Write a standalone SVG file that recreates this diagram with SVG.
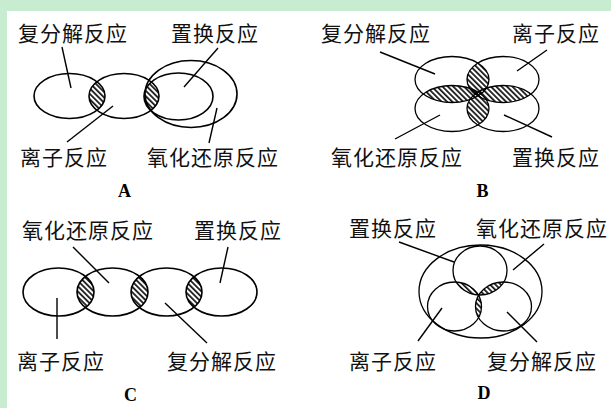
<svg xmlns="http://www.w3.org/2000/svg" width="611" height="408" viewBox="0 0 611 408">
<style>
.set{fill:none;stroke:#000;stroke-width:1.6}
.thin{stroke-width:1.3}
.lead{stroke:#000;stroke-width:1.4;fill:none}
.lbl{font-family:"Noto Sans CJK SC","Noto Sans CJK JP",sans-serif;font-size:21px;letter-spacing:1px;fill:#111}
.cap{font-family:"Liberation Serif",serif;font-weight:bold;font-size:18px;fill:#000;text-anchor:middle}
.h{fill:url(#hatch);stroke:none}
</style>
<defs>
<pattern id="hatch" patternUnits="userSpaceOnUse" width="3.8" height="3.8" patternTransform="rotate(-45)">
<line x1="0.9" y1="0" x2="0.9" y2="3.8" stroke="#000" stroke-width="1.6"/>
</pattern>
<clipPath id="cA1"><ellipse cx="69.5" cy="96" rx="35.5" ry="22.5"/></clipPath>
<clipPath id="cA3"><ellipse cx="178.5" cy="96.5" rx="34.5" ry="23.5"/></clipPath>
<clipPath id="cBtl"><ellipse cx="452" cy="79.5" rx="37" ry="23"/></clipPath>
<clipPath id="cBbl"><ellipse cx="452" cy="108.5" rx="37" ry="23"/></clipPath>
<clipPath id="cBtr"><ellipse cx="503" cy="79.5" rx="36" ry="23"/></clipPath>
<clipPath id="cC1"><ellipse cx="58.5" cy="292" rx="35.5" ry="24"/></clipPath>
<clipPath id="cC2"><ellipse cx="112.5" cy="292" rx="35.5" ry="24"/></clipPath>
<clipPath id="cC3"><ellipse cx="166.5" cy="292" rx="35.5" ry="24"/></clipPath>
<clipPath id="cDt"><ellipse cx="480" cy="270.5" rx="27" ry="24.5"/></clipPath>
<clipPath id="cDl"><ellipse cx="454.5" cy="306.5" rx="27" ry="24.5"/></clipPath>
</defs>
<rect x="0" y="0" width="611" height="408" fill="#c8ecd0"/>
<rect x="7" y="11" width="604" height="397" fill="#fff"/>

<!-- Panel A -->
<g id="panelA">
<g id="A-hatch">
<ellipse class="h" cx="124" cy="96" rx="35" ry="22.5" clip-path="url(#cA1)"/>
<ellipse class="h" cx="124" cy="96" rx="35" ry="22.5" clip-path="url(#cA3)"/>
</g>
<g id="A-fufenjie"><ellipse class="set" cx="69.5" cy="96" rx="35.5" ry="22.5"/><text class="lbl" x="18" y="41">复分解反应</text></g>
<g id="A-lizi"><ellipse class="set" cx="124" cy="96" rx="35" ry="22.5"/><text class="lbl" x="20" y="165">离子反应</text></g>
<g id="A-zhihuan"><ellipse class="set" cx="178.5" cy="96.5" rx="34.5" ry="23.5"/><text class="lbl" x="171" y="41">置换反应</text></g>
<g id="A-yanghua"><ellipse class="set" cx="191" cy="94" rx="46" ry="33.5"/><text class="lbl" x="147" y="165">氧化还原反应</text></g>
<text class="cap" x="124.5" y="197">A</text>
</g>

<!-- Panel B -->
<g id="panelB">
<g id="B-hatch">
<ellipse class="h" cx="503" cy="79.5" rx="36" ry="23" clip-path="url(#cBtl)"/>
<ellipse class="h" cx="503" cy="108.5" rx="36" ry="23" clip-path="url(#cBbl)"/>
<ellipse class="h" cx="452" cy="108.5" rx="37" ry="23" clip-path="url(#cBtl)"/>
<ellipse class="h" cx="503" cy="108.5" rx="36" ry="23" clip-path="url(#cBtr)"/>
</g>
<g id="B-fufenjie"><ellipse class="set thin" cx="452" cy="79.5" rx="37" ry="23"/><text class="lbl" x="321" y="41">复分解反应</text></g>
<g id="B-lizi"><ellipse class="set thin" cx="503" cy="79.5" rx="36" ry="23"/><text class="lbl" x="512" y="41">离子反应</text></g>
<g id="B-yanghua"><ellipse class="set thin" cx="452" cy="108.5" rx="37" ry="23"/><text class="lbl" x="331" y="165">氧化还原反应</text></g>
<g id="B-zhihuan"><ellipse class="set thin" cx="503" cy="108.5" rx="36" ry="23"/><text class="lbl" x="512" y="165">置换反应</text></g>
<text class="cap" x="482.5" y="197">B</text>
</g>

<!-- Panel C -->
<g id="panelC">
<g id="C-hatch">
<ellipse class="h" cx="112.5" cy="292" rx="35.5" ry="24" clip-path="url(#cC1)"/>
<ellipse class="h" cx="166.5" cy="292" rx="35.5" ry="24" clip-path="url(#cC2)"/>
<ellipse class="h" cx="221.5" cy="292" rx="35.5" ry="24" clip-path="url(#cC3)"/>
</g>
<g id="C-lizi"><ellipse class="set" cx="58.5" cy="292" rx="35.5" ry="24"/><text class="lbl" x="17" y="369">离子反应</text></g>
<g id="C-yanghua"><ellipse class="set" cx="112.5" cy="292" rx="35.5" ry="24"/><text class="lbl" x="22" y="238">氧化还原反应</text></g>
<g id="C-fufenjie"><ellipse class="set" cx="166.5" cy="292" rx="35.5" ry="24"/><text class="lbl" x="167" y="369">复分解反应</text></g>
<g id="C-zhihuan"><ellipse class="set" cx="221.5" cy="292" rx="35.5" ry="24"/><text class="lbl" x="194" y="238">置换反应</text></g>
<text class="cap" x="130.5" y="401">C</text>
</g>

<!-- Panel D -->
<g id="panelD">
<g id="D-hatch">
<ellipse class="h" cx="454.5" cy="306.5" rx="27" ry="24.5" clip-path="url(#cDt)"/>
<ellipse class="h" cx="503.5" cy="306.5" rx="28" ry="24.5" clip-path="url(#cDt)"/>
<ellipse class="h" cx="503.5" cy="306.5" rx="28" ry="24.5" clip-path="url(#cDl)"/>
</g>
<g id="D-yanghua"><ellipse class="set thin" cx="480.5" cy="291.5" rx="61.5" ry="46.5"/><text class="lbl" x="476" y="236">氧化还原反应</text></g>
<g id="D-zhihuan"><ellipse class="set thin" cx="480" cy="270.5" rx="27" ry="24.5"/><text class="lbl" x="349" y="236">置换反应</text></g>
<g id="D-lizi"><ellipse class="set thin" cx="454.5" cy="306.5" rx="27" ry="24.5"/><text class="lbl" x="349" y="369">离子反应</text></g>
<g id="D-fufenjie"><ellipse class="set thin" cx="503.5" cy="306.5" rx="28" ry="24.5"/><text class="lbl" x="487" y="369">复分解反应</text></g>
<text class="cap" x="484" y="399">D</text>
</g>

<g id="connectors">
<line class="lead" x1="62" y1="47" x2="71" y2="88"/>
<line class="lead" x1="67" y1="142" x2="113" y2="106"/>
<line class="lead" x1="218" y1="48" x2="184" y2="87"/>
<line class="lead" x1="209" y1="143" x2="217" y2="108"/>

<line class="lead" x1="380" y1="52" x2="435" y2="74"/>
<line class="lead" x1="547" y1="50" x2="517" y2="71"/>
<line class="lead" x1="395" y1="139" x2="440" y2="115"/>
<line class="lead" x1="504" y1="115" x2="552" y2="137"/>

<line class="lead" x1="73" y1="247" x2="109" y2="283"/>
<line class="lead" x1="228" y1="247" x2="220" y2="283"/>
<line class="lead" x1="57" y1="298" x2="57" y2="339"/>
<line class="lead" x1="165" y1="303" x2="207" y2="343"/>

<line class="lead" x1="399" y1="242" x2="454" y2="262"/>
<line class="lead" x1="544" y1="244" x2="513" y2="270"/>
<line class="lead" x1="418" y1="341" x2="442" y2="308"/>
<line class="lead" x1="507" y1="312" x2="537" y2="342"/>
</g>
</svg>
